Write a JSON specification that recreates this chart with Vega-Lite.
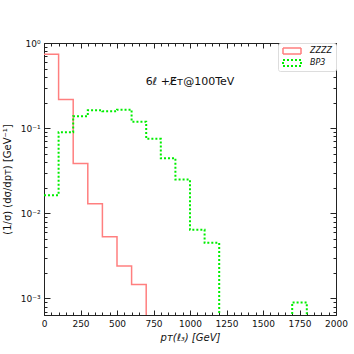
{
  "$schema": "https://vega.github.io/schema/vega-lite/v6.json",
  "width": 292,
  "height": 272,
  "autosize": "none",
  "padding": {"left": 44, "top": 43, "right": 18, "bottom": 39},
  "background": "white",
  "config": {
    "font": "DejaVu Sans",
    "view": {"stroke": "#222", "strokeWidth": 1},
    "axis": {"labelFont": "DejaVu Sans", "titleFont": "DejaVu Sans", "labelColor": "#111", "titleColor": "#111", "domainColor": "#222", "tickColor": "#222", "grid": false, "labelFontSize": 9, "titleFontSize": 10, "titleFontWeight": "normal"}
  },
  "datasets": {
    "hist": [
      {"pt": 0, "v": 0.74, "s": "ZZZZ"},
      {"pt": 100, "v": 0.217, "s": "ZZZZ"},
      {"pt": 200, "v": 0.0385, "s": "ZZZZ"},
      {"pt": 300, "v": 0.013, "s": "ZZZZ"},
      {"pt": 400, "v": 0.0053, "s": "ZZZZ"},
      {"pt": 500, "v": 0.0024, "s": "ZZZZ"},
      {"pt": 600, "v": 0.00146, "s": "ZZZZ"},
      {"pt": 700, "v": 0.000001, "s": "ZZZZ"},
      {"pt": 0, "v": 0.0163, "s": "BP3"},
      {"pt": 100, "v": 0.0897, "s": "BP3"},
      {"pt": 200, "v": 0.138, "s": "BP3"},
      {"pt": 300, "v": 0.162, "s": "BP3"},
      {"pt": 400, "v": 0.158, "s": "BP3"},
      {"pt": 500, "v": 0.165, "s": "BP3"},
      {"pt": 600, "v": 0.119, "s": "BP3"},
      {"pt": 700, "v": 0.075, "s": "BP3"},
      {"pt": 800, "v": 0.0444, "s": "BP3"},
      {"pt": 900, "v": 0.0249, "s": "BP3"},
      {"pt": 1000, "v": 0.0064, "s": "BP3"},
      {"pt": 1100, "v": 0.0045, "s": "BP3"},
      {"pt": 1200, "v": 0.000001, "s": "BP3"},
      {"pt": 1700, "v": 0.0009, "s": "BP3"},
      {"pt": 1800, "v": 0.000001, "s": "BP3"}
    ],
    "note": [
      {"pt": 1000, "v": 0.35, "label": "6ℓ +E̸ᴛ@100TeV"}
    ]
  },
  "resolve": {"axis": {"x": "independent", "y": "independent"}},
  "layer": [
    {
      "data": {"name": "hist"},
      "mark": {"type": "line", "interpolate": "step-after", "clip": true},
      "encoding": {
        "x": {
          "field": "pt", "type": "quantitative",
          "scale": {"domain": [0, 2000], "nice": false, "zero": false},
          "axis": {
            "orient": "bottom",
            "title": "pᴛ(ℓ₃) [GeV]",
            "titleFontStyle": "italic",
            "titlePadding": 2,
            "values": [0,50,100,150,200,250,300,350,400,450,500,550,600,650,700,750,800,850,900,950,1000,1050,1100,1150,1200,1250,1300,1350,1400,1450,1500,1550,1600,1650,1700,1750,1800,1850,1900,1950,2000],
            "labelExpr": "datum.value % 250 === 0 ? datum.label : ''",
            "format": "d",
            "tickSize": {"condition": {"test": "datum.value % 250 === 0", "value": -5}, "value": -3},
            "labelPadding": 9,
            "labelFlush": false,
            "labelOverlap": false
          }
        },
        "y": {
          "field": "v", "type": "quantitative",
          "scale": {"type": "log", "domain": [0.00064, 1], "nice": false},
          "axis": {
            "orient": "left",
            "title": "(1/σ) (dσ/dpᴛ) [GeV⁻¹]",
            "titlePadding": 8,
            "values": [0.0007,0.0008,0.0009,0.001,0.002,0.003,0.004,0.005,0.006,0.007,0.008,0.009,0.01,0.02,0.03,0.04,0.05,0.06,0.07,0.08,0.09,0.1,0.2,0.3,0.4,0.5,0.6,0.7,0.8,0.9,1],
            "labelExpr": "abs(datum.value - 1) < 1e-9 ? '10⁰' : abs(datum.value - 0.1) < 1e-10 ? '10⁻¹' : abs(datum.value - 0.01) < 1e-11 ? '10⁻²' : abs(datum.value - 0.001) < 1e-12 ? '10⁻³' : ''",
            "tickSize": {"condition": {"test": "abs(log(datum.value)/LN10 - round(log(datum.value)/LN10)) < 1e-6", "value": -6}, "value": -3},
            "labelPadding": 10,
            "labelFlush": false,
            "labelOverlap": false
          }
        },
        "color": {
          "field": "s", "type": "nominal",
          "scale": {"domain": ["ZZZZ", "BP3"], "range": ["#ff7f7f", "#00ee00"]},
          "legend": {
            "title": null,
            "orient": "top-right",
            "offset": 0,
            "padding": 4,
            "rowPadding": 4,
            "clipHeight": 8,
            "strokeColor": "#dddddd",
            "fillColor": "white",
            "cornerRadius": 2,
            "labelFontStyle": "italic",
            "labelFontSize": 8,
            "labelColor": "#111",
            "symbolType": "M-3,-1H3V1H-3Z",
            "symbolSize": 36,
            "symbolOffset": 6,
            "labelOffset": 14,
            "symbolStrokeWidth": 1.5,
            "symbolFillColor": "transparent"
          }
        },
        "strokeDash": {
          "field": "s", "type": "nominal",
          "scale": {"domain": ["ZZZZ", "BP3"], "range": [[1, 0], [2, 2]]},
          "legend": null
        },
        "strokeWidth": {
          "field": "s", "type": "nominal",
          "scale": {"domain": ["ZZZZ", "BP3"], "range": [1.5, 2]},
          "legend": null
        }
      }
    },
    {
      "data": {"name": "note"},
      "mark": {"type": "text", "fontSize": 11, "font": "DejaVu Sans", "color": "#111"},
      "encoding": {
        "x": {"field": "pt", "type": "quantitative",
          "axis": {"orient": "top", "title": null, "labels": false, "domain": false,
            "values": [0,50,100,150,200,250,300,350,400,450,500,550,600,650,700,750,800,850,900,950,1000,1050,1100,1150,1200,1250,1300,1350,1400,1450,1500,1550,1600,1650,1700,1750,1800,1850,1900,1950,2000],
            "tickSize": {"condition": {"test": "datum.value % 250 === 0", "value": -5}, "value": -3}}},
        "y": {"field": "v", "type": "quantitative",
          "axis": {"orient": "right", "title": null, "labels": false, "domain": false,
            "values": [0.0007,0.0008,0.0009,0.001,0.002,0.003,0.004,0.005,0.006,0.007,0.008,0.009,0.01,0.02,0.03,0.04,0.05,0.06,0.07,0.08,0.09,0.1,0.2,0.3,0.4,0.5,0.6,0.7,0.8,0.9,1],
            "tickSize": {"condition": {"test": "abs(log(datum.value)/LN10 - round(log(datum.value)/LN10)) < 1e-6", "value": -6}, "value": -3}}},
        "text": {"field": "label"}
      }
    }
  ]
}
